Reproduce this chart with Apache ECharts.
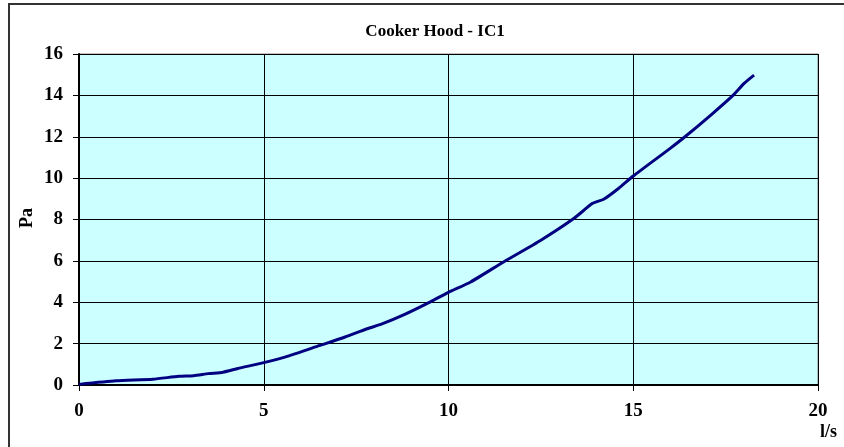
<!DOCTYPE html>
<html><head><meta charset="utf-8">
<script src="https://cdn.jsdelivr.net/npm/echarts@6/dist/echarts.min.js"></script>
<style>html,body{margin:0;padding:0;background:#fff}#c{width:844px;height:447px}</style>
</head><body><div id="c"></div>
<script>
const titleText = 'Cooker Hood - IC1';
const xName = 'l/s';
const yName = 'Pa';
const flowLs = [0, 1, 2, 2.7, 3.1, 3.5, 3.9, 4.3, 5, 5.7, 6.5, 7.2, 7.8, 8.2, 8.8, 9.4, 10, 10.6, 11.5, 12.5, 13.4, 13.9, 14.2, 14.6, 15, 16, 16.4, 17.1, 17.7, 18, 18.27];
const pressurePa = [0.03, 0.2, 0.28, 0.42, 0.45, 0.55, 0.62, 0.8, 1.08, 1.42, 1.9, 2.32, 2.72, 2.95, 3.4, 3.92, 4.48, 4.98, 5.96, 7.0, 8.06, 8.78, 8.98, 9.5, 10.1, 11.44, 12.0, 13.05, 14.0, 14.58, 14.98];

const chart = echarts.init(document.getElementById('c'));
const serif = '"Liberation Serif","Times New Roman",serif';
chart.setOption({
  animation: false,
  backgroundColor: '#fff',
  title: {
    text: titleText, left: 430, top: 18, textAlign: 'center',
    textStyle: { fontFamily: serif, fontWeight: 'bold', fontSize: 17, color: '#000' }
  },
  graphic: [
    { type: 'rect', shape: { x: 9, y: 4, width: 900, height: 500 }, style: { fill: 'none', stroke: '#333', lineWidth: 2 }, z: 100 },
    { type: 'text', left: 820, top: 423, style: { text: xName, font: 'bold 18px ' + serif, fill: '#000' } },
    { type: 'text', left: 18, top: 208, rotation: Math.PI / 2, style: { text: yName, font: 'bold 18px ' + serif, fill: '#000' } }
  ],
  grid: { left: 79, right: 26, top: 54, bottom: 62, show: true, backgroundColor: '#CCFFFF', borderColor: '#808080', borderWidth: 1 },
  xAxis: {
    type: 'value', min: 0, max: 20, interval: 5,
    axisLine: { lineStyle: { color: '#000', width: 2 } },
    axisTick: { show: true, length: 6, lineStyle: { color: '#000' } },
    axisLabel: { margin: 17, fontFamily: serif, fontWeight: 'bold', fontSize: 19, color: '#000' },
    splitLine: { show: true, lineStyle: { color: '#000', width: 1 } }
  },
  yAxis: {
    type: 'value', min: 0, max: 16, interval: 2,
    axisLine: { show: true, lineStyle: { color: '#000', width: 2 } },
    axisTick: { show: true, length: 6, lineStyle: { color: '#000' } },
    axisLabel: { margin: 16, fontFamily: serif, fontWeight: 'bold', fontSize: 19, color: '#000' },
    splitLine: { show: true, lineStyle: { color: '#000', width: 1 } }
  },
  series: [{
    type: 'line', data: flowLs.map((x, i) => [x, pressurePa[i]]),
    showSymbol: false, smooth: 0.2,
    lineStyle: { color: '#000080', width: 3 }
  }]
});
</script></body></html>
